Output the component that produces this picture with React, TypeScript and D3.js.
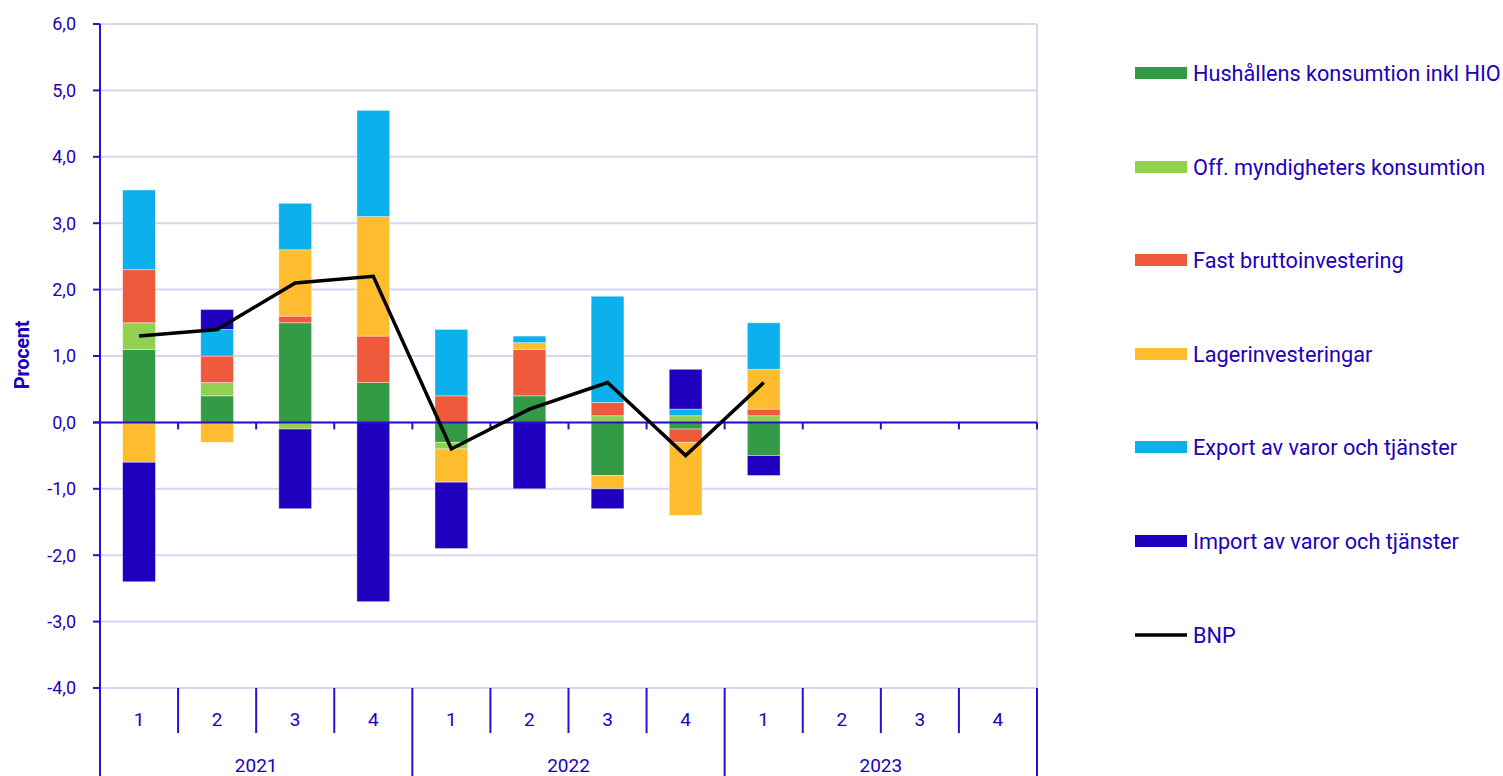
import React from "react";
import * as d3 from "d3";

const quarters = ["1", "2", "3", "4", "1", "2", "3", "4", "1", "2", "3", "4"];
const years = ["2021", "2022", "2023"];
const yTicks = [-4, -3, -2, -1, 0, 1, 2, 3, 4, 5, 6];

const seriesNames = [
  "Hushållens konsumtion inkl HIO",
  "Off. myndigheters konsumtion",
  "Fast bruttoinvestering",
  "Lagerinvesteringar",
  "Export av varor och tjänster",
  "Import av varor och tjänster",
];
const seriesColors = ["#339a46", "#92d050", "#f05a3c", "#ffbc2e", "#0cb0ec", "#1f00bf"];

const hushall = [1.1, 0.4, 1.5, 0.6, -0.3, 0.4, -0.8, -0.1, -0.5, null, null, null];
const offentlig = [0.4, 0.2, -0.1, 0, -0.1, 0, 0.1, 0.1, 0.1, null, null, null];
const fastInv = [0.8, 0.4, 0.1, 0.7, 0.4, 0.7, 0.2, -0.2, 0.1, null, null, null];
const lager = [-0.6, -0.3, 1.0, 1.8, -0.5, 0.1, -0.2, -1.1, 0.6, null, null, null];
const exportV = [1.2, 0.4, 0.7, 1.6, 1.0, 0.1, 1.6, 0.1, 0.7, null, null, null];
const importV = [-1.8, 0.3, -1.2, -2.7, -1.0, -1.0, -0.3, 0.6, -0.3, null, null, null];
const bnp = [1.3, 1.4, 2.1, 2.2, -0.4, 0.2, 0.6, -0.5, 0.6, null, null, null];

const TEXT = "#2200bb";
const AXIS = "#2a0fd0";
const GRID = "#d7d5f1";

const App: React.FC = () => {
  const width = 1503;
  const height = 776;
  const left = 100;
  const right = 1037;
  const top = 24;
  const bottom = 688;

  const ids = quarters.map((_, i) => String(i));
  const xCat = d3.scaleBand().domain(ids).range([left, right]).paddingInner(0).paddingOuter(0);
  const xBar = d3.scaleBand().domain(ids).range([left, right]).paddingInner(0.58).paddingOuter(0.29);
  const y = d3.scaleLinear().domain([-4, 6]).range([bottom, top]);

  const allSeries = [hushall, offentlig, fastInv, lager, exportV, importV];
  const rows = ids.map((id, i) => {
    const r: Record<string, number | string> = { id };
    allSeries.forEach((s, k) => (r["s" + k] = s[i] ?? 0));
    return r;
  });
  const keys = allSeries.map((_, k) => "s" + k);
  const stacked = d3
    .stack<Record<string, number | string>>()
    .keys(keys)
    .value((d, key) => d[key] as number)
    .offset(d3.stackOffsetDiverging)(rows);

  const line = d3
    .line<number | null>()
    .defined((d) => d != null)
    .x((_, i) => xCat(String(i))! + xCat.bandwidth() / 2)
    .y((d) => y(d as number));

  const legendY = [73, 167, 260, 354, 447, 541, 635];
  const yearW = xCat.step() * 4;

  return (
    <svg width={width} height={height} style={{ position: "absolute", left: 0, top: 0 }}>
      <rect width={width} height={height} fill="#fff" />
      {/* grid */}
      {yTicks.map((t) => (
        <line key={"g" + t} x1={left} x2={right} y1={y(t)} y2={y(t)} stroke={GRID} strokeWidth={2} />
      ))}
      <line x1={right} x2={right} y1={top} y2={bottom} stroke={GRID} strokeWidth={2} />

      {/* bars */}
      {stacked.map((layer, k) => (
        <g key={layer.key} fill={seriesColors[k]}>
          {layer.map((seg, i) => {
            const h = Math.abs(y(seg[0]) - y(seg[1]));
            if (h < 0.01) return null;
            return (
              <rect
                key={i}
                x={xBar(String(i))}
                width={xBar.bandwidth()}
                y={Math.min(y(seg[0]), y(seg[1]))}
                height={h}
                stroke="#ffffff"
                strokeOpacity={0.5}
                strokeWidth={0.8}
              />
            );
          })}
        </g>
      ))}

      {/* zero line */}
      <line x1={left - 7} x2={right} y1={y(0)} y2={y(0)} stroke={AXIS} strokeWidth={2} />
      {ids.slice(1).map((id) => (
        <line key={"zt" + id} x1={xCat(id)} x2={xCat(id)} y1={y(0)} y2={y(0) + 7} stroke={AXIS} strokeWidth={2} />
      ))}
      <line x1={right} x2={right} y1={y(0)} y2={y(0) + 7} stroke={AXIS} strokeWidth={2} />

      {/* BNP */}
      <path d={line(bnp) || ""} fill="none" stroke="#000" strokeWidth={3.5} strokeLinejoin="miter" />

      {/* y axis */}
      <line x1={left} x2={left} y1={top} y2={height} stroke={AXIS} strokeWidth={2} />
      {yTicks.map((t) => (
        <g key={"t" + t}>
          <line x1={left - 7} x2={left} y1={y(t)} y2={y(t)} stroke={AXIS} strokeWidth={2} />
          <text
            x={left - 24}
            y={y(t)}
            dy="0.36em"
            textAnchor="end"
            fill={TEXT}
            fontFamily="Roboto, sans-serif"
            fontSize={18}
          >
            {d3.format(".1f")(t).replace(".", ",").replace("−", "-")}
          </text>
        </g>
      ))}
      <text
        transform={`translate(29,${(top + bottom) / 2 - 1}) rotate(-90)`}
        textAnchor="middle"
        fill={TEXT}
        fontFamily="Roboto, sans-serif"
        fontWeight="bold"
        fontSize={20}
        letterSpacing={-0.3}
      >
        Procent
      </text>

      {/* category axis */}
      {ids.map((id, i) =>
        i % 4 === 0 ? null : (
          <line key={"q" + id} x1={xCat(id)} x2={xCat(id)} y1={bottom} y2={733} stroke={AXIS} strokeWidth={2} />
        )
      )}
      {years.map((yr, j) => (
        <line
          key={"yl" + yr}
          x1={left + (j + 1) * yearW}
          x2={left + (j + 1) * yearW}
          y1={bottom}
          y2={height}
          stroke={AXIS}
          strokeWidth={2}
        />
      ))}
      {quarters.map((q, i) => (
        <text
          key={"ql" + i}
          x={xCat(String(i))! + xCat.bandwidth() / 2}
          y={726}
          textAnchor="middle"
          fill={TEXT}
          fontFamily="Roboto, sans-serif"
          fontSize={19}
        >
          {q}
        </text>
      ))}
      {years.map((yr, j) => (
        <text
          key={"yt" + yr}
          x={left + (j + 0.5) * yearW}
          y={772}
          textAnchor="middle"
          fill={TEXT}
          fontFamily="Roboto, sans-serif"
          fontSize={19}
        >
          {yr}
        </text>
      ))}

      {/* legend */}
      {seriesNames.map((name, k) => (
        <g key={"lg" + k} transform={`translate(1135,${legendY[k]})`}>
          <rect x={0} y={-6} width={52} height={12} fill={seriesColors[k]} />
          <text x={58} dy="0.36em" fill={TEXT} fontFamily="Roboto, sans-serif" fontSize={21.7}>
            {name}
          </text>
        </g>
      ))}
      <g transform={`translate(1135,${legendY[6]})`}>
        <line x1={0} x2={52} y1={0} y2={0} stroke="#000" strokeWidth={3.5} />
        <text x={58} dy="0.36em" fill={TEXT} fontFamily="Roboto, sans-serif" fontSize={21.7}>
          BNP
        </text>
      </g>
    </svg>
  );
};

export default App;
